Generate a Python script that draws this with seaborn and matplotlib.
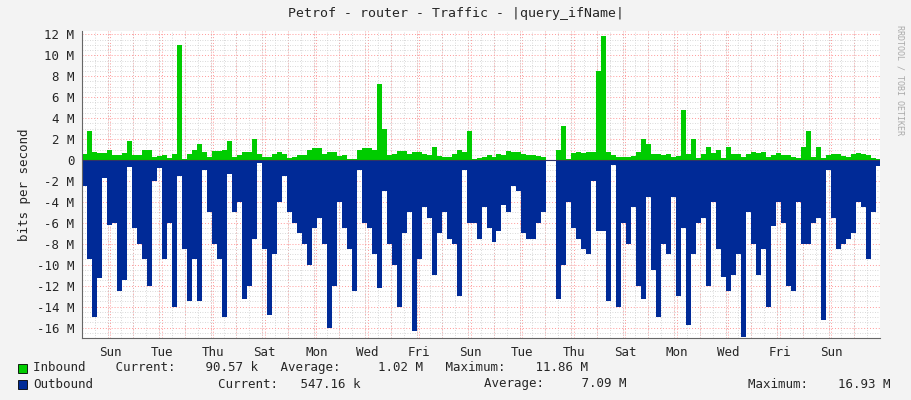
import numpy as np
import seaborn as sns
import matplotlib.pyplot as plt
from matplotlib.ticker import MultipleLocator, FuncFormatter

nan = np.nan
# Mbit/s, one sample per ~4.7 h over about a month
inbound = [0.6, 2.8, 0.8, 0.7, 0.7, 1.0, 0.5, 0.5, 0.7, 1.8, 0.5, 0.5, 1.0, 1.0, 0.3, 0.4, 0.5, 0.2, 0.6, 11.0,
           0.1, 0.6, 1.0, 1.5, 0.8, 0.3, 0.9, 0.9, 1.0, 1.8, 0.3, 0.5, 0.8, 0.8, 2.0, 0.6, 0.3, 0.3, 0.6, 0.8,
           0.6, 0.2, 0.3, 0.5, 0.5, 1.0, 1.1, 1.1, 0.6, 0.8, 0.8, 0.4, 0.5, 0.1, 0.1, 1.0, 1.1, 1.1, 1.0, 7.3,
           3.0, 0.5, 0.6, 0.9, 0.9, 0.6, 0.8, 0.8, 0.6, 0.5, 1.2, 0.4, 0.3, 0.3, 0.6, 1.0, 0.8, 2.8, 0.1, 0.2,
           0.3, 0.5, 0.3, 0.6, 0.5, 0.9, 0.8, 0.8, 0.6, 0.5, 0.5, 0.4, 0.3, 0.3, nan, 1.0, 3.2, 0.1, 0.7, 0.8,
           0.7, 0.8, 0.8, 8.5, 11.86, 0.8, 0.5, 0.3, 0.3, 0.3, 0.4, 0.8, 2.0, 1.5, 0.6, 0.6, 0.5, 0.6, 0.3, 0.4,
           4.8, 0.6, 2.0, 0.2, 0.6, 1.2, 0.7, 1.0, 0.2, 1.2, 0.6, 0.6, 0.3, 0.6, 0.8, 0.7, 0.8, 0.3, 0.5, 0.7,
           0.5, 0.5, 0.3, 0.2, 1.2, 2.8, 0.3, 1.2, 0.2, 0.5, 0.6, 0.6, 0.4, 0.3, 0.6, 0.7, 0.6, 0.5, 0.2, 0.09]
outbound = [2.5, 9.5, 15.0, 11.3, 1.7, 6.2, 6.0, 12.5, 11.5, 0.7, 6.5, 8.0, 9.5, 12.0, 2.0, 0.8, 9.5, 6.0, 14.0, 1.5,
            8.5, 13.5, 9.5, 13.5, 1.0, 5.0, 8.0, 9.5, 15.0, 1.3, 5.0, 4.0, 13.3, 12.0, 7.5, 0.3, 8.5, 14.8, 9.0, 4.0,
            1.5, 5.0, 6.0, 7.0, 8.0, 10.0, 6.5, 5.5, 8.0, 16.0, 12.0, 4.0, 6.5, 8.5, 12.5, 1.0, 6.0, 6.5, 9.0, 12.2,
            3.0, 8.0, 10.0, 14.0, 7.0, 5.0, 16.3, 9.5, 4.5, 5.5, 11.0, 7.0, 5.0, 7.5, 8.0, 13.0, 1.0, 6.0, 6.0, 7.5,
            4.5, 6.5, 7.8, 6.8, 4.3, 5.0, 2.5, 3.0, 7.0, 7.5, 7.5, 6.0, 5.0, 4.8, nan, 13.3, 10.0, 4.0, 6.5, 7.5,
            8.5, 9.0, 2.0, 6.8, 6.8, 13.5, 0.5, 14.0, 6.0, 8.0, 4.5, 12.0, 13.3, 3.5, 10.5, 15.0, 8.0, 9.0, 3.5, 13.0,
            6.5, 15.8, 9.0, 6.0, 5.5, 12.0, 4.0, 8.5, 11.2, 12.5, 11.0, 9.0, 16.93, 5.0, 8.0, 11.0, 8.5, 14.0, 6.3, 4.0,
            6.0, 12.0, 12.5, 4.0, 8.0, 8.0, 6.0, 5.5, 15.3, 1.0, 5.5, 8.5, 8.0, 7.5, 7.0, 4.0, 4.5, 9.5, 5.0, 0.55]
day_labels = ["Sun", "Tue", "Thu", "Sat", "Mon", "Wed", "Fri", "Sun", "Tue", "Thu", "Sat", "Mon", "Wed", "Fri", "Sun"]
first_label_day = 1.1
sample_days = 0.194

sns.set_style("white")
plt.rcParams['font.family'] = ['DejaVu Sans Mono']

fig = plt.figure(figsize=(9.11, 4.0), dpi=100, facecolor="#F3F3F3")
ax = fig.add_axes([82/911, 0.155, 798/911, 0.767])
ax.set_facecolor("white")

t_in = np.arange(len(inbound) + 1) * sample_days
t_out = np.arange(len(outbound) + 1) * sample_days
vin = np.append(inbound, inbound[-1])
vout = -np.append(outbound, outbound[-1])
ax.fill_between(t_in, 0, vin, step="post", color="#00CC00", lw=0)
ax.fill_between(t_out, 0, vout, step="post", color="#002A97", lw=0)

ax.set_xlim(0, 31)
ax.set_ylim(-17, 12.3)
ax.yaxis.set_major_locator(MultipleLocator(2))
ax.yaxis.set_minor_locator(MultipleLocator(0.5))
ax.xaxis.set_major_locator(MultipleLocator(1))
ax.xaxis.set_minor_locator(MultipleLocator(0.5))
ax.grid(which="major", color="#FF9999", ls=(0, (1, 2)), lw=0.7)
ax.grid(which="minor", color="#CCCCCC", ls=(0, (1, 2)), lw=0.6)
ax.set_axisbelow(True)
ax.axhline(0, color="#333366", lw=0.8)

ax.yaxis.set_major_formatter(FuncFormatter(lambda v, p: "0" if v == 0 else "%d M" % v))
ax.set_xticks([first_label_day + 2*i for i in range(len(day_labels))], minor=False)
ax.set_xticklabels(day_labels)
ax.xaxis.set_major_locator(MultipleLocator(1))
ax.set_xticks([first_label_day + 2*i for i in range(len(day_labels))])
ax.set_xticklabels(day_labels)
for d in range(32):
    ax.axvline(d, color="#FF9999", ls=(0, (1, 2)), lw=0.7, zorder=0)
ax.tick_params(axis="both", labelsize=9, length=2, color="#999999")
ax.set_ylabel("bits per second", fontsize=9)
for s in ["top", "right"]:
    ax.spines[s].set_visible(False)
for s in ["left", "bottom"]:
    ax.spines[s].set_color("#666666")

fig.text(0.5, 0.965, "Petrof - router - Traffic - |query_ifName|", ha="center", va="center", fontsize=9.5)
fig.text(0.988, 0.8, "RRDTOOL / TOBI OETIKER", rotation=270, fontsize=6, color="#AAAAAA", ha="center", va="center")

fig.patches.append(plt.Rectangle((18/911, 1-373/400), 9/911, 9/400, transform=fig.transFigure, fc="#00CC00", ec="black", lw=0.6))
fig.patches.append(plt.Rectangle((18/911, 1-389/400), 9/911, 9/400, transform=fig.transFigure, fc="#002A97", ec="black", lw=0.6))
fig.text(33/911, 1-368/400, "Inbound    Current:    90.57 k   Average:     1.02 M   Maximum:    11.86 M", fontsize=9, va="center")
fig.text(33/911, 1-384/400, "Outbound", fontsize=9, va="center")
fig.text(218/911, 1-384/400, "Current:   547.16 k", fontsize=9, va="center")
fig.text(484/911, 1-384/400, "Average:     7.09 M", fontsize=9, va="center")
fig.text(748/911, 1-384/400, "Maximum:    16.93 M", fontsize=9, va="center")

fig.savefig("out.png", dpi=100, facecolor=fig.get_facecolor())
